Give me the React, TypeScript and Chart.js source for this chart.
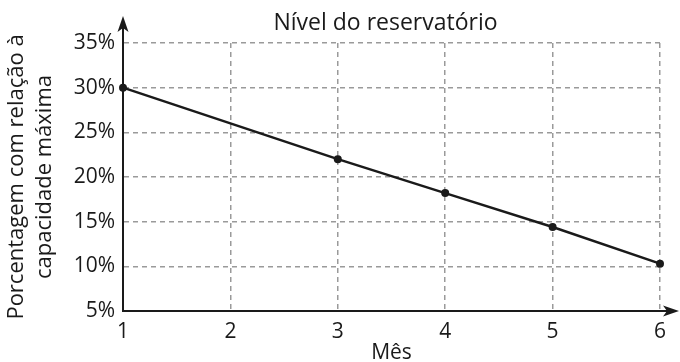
import React, { useEffect, useRef } from "react";
import { Chart, registerables } from "chart.js";

Chart.register(...registerables);

const months = [1, 3, 4, 5, 6];
const levels = [30, 22, 18.2, 14.4, 10.3];
const chartTitle = "Nível do reservatório";
const yTitle = ["Porcentagem com relação à", "capacidade máxima"];
const xTitle = "Mês";
const yMin = 5;
const yMax = 35;
const xMin = 1;
const xMax = 6;

const FONT = "'Open Sans', sans-serif";
const INK = "#1a1a1a";

const titlePlugin = {
  id: "centeredTitle",
  afterDraw(chart: any) {
    const { ctx, chartArea } = chart;
    ctx.save();
    ctx.fillStyle = INK;
    ctx.font = `23px ${FONT}`;
    ctx.textAlign = "center";
    ctx.textBaseline = "middle";
    ctx.fillText(chartTitle, (chartArea.left + chartArea.right) / 2 - 6, 23);
    ctx.restore();
  },
};

const arrowPlugin = {
  id: "axisArrows",
  afterDraw(chart: any) {
    const { ctx, chartArea } = chart;
    const { left, right, top, bottom } = chartArea;
    ctx.save();
    ctx.strokeStyle = INK;
    ctx.fillStyle = INK;
    ctx.lineWidth = 2;
    const tipY = top - 27;
    ctx.beginPath();
    ctx.moveTo(left, top);
    ctx.lineTo(left, tipY + 10);
    ctx.stroke();
    ctx.beginPath();
    ctx.moveTo(left, tipY);
    ctx.lineTo(left - 5.5, tipY + 16);
    ctx.lineTo(left, tipY + 12);
    ctx.lineTo(left + 5.5, tipY + 16);
    ctx.closePath();
    ctx.fill();
    const tipX = right + 19;
    ctx.beginPath();
    ctx.moveTo(right, bottom);
    ctx.lineTo(tipX - 10, bottom);
    ctx.stroke();
    ctx.beginPath();
    ctx.moveTo(tipX, bottom);
    ctx.lineTo(tipX - 16, bottom - 5.5);
    ctx.lineTo(tipX - 12, bottom);
    ctx.lineTo(tipX - 16, bottom + 5.5);
    ctx.closePath();
    ctx.fill();
    ctx.restore();
  },
};

export default function App() {
  const ref = useRef<HTMLCanvasElement | null>(null);

  useEffect(() => {
    document.body.style.margin = "0";
    const canvas = ref.current;
    if (!canvas) return;
    const chart = new Chart(canvas, {
      type: "scatter",
      data: {
        datasets: [
          {
            data: months.map((m, i) => ({ x: m, y: levels[i] })),
            showLine: true,
            borderColor: INK,
            backgroundColor: INK,
            borderWidth: 2.5,
            pointRadius: 4,
            pointBackgroundColor: INK,
            pointBorderWidth: 0,
            clip: false,
          },
        ],
      },
      options: {
        responsive: false,
        animation: false,
        devicePixelRatio: 1,
        layout: { padding: { left: 0, right: 20, top: 43, bottom: 0 } },
        plugins: {
          legend: { display: false },
          tooltip: { enabled: false },
          title: { display: false },
        },
        scales: {
          x: {
            type: "linear",
            min: xMin,
            max: xMax,
            afterFit: (s: any) => {
              s.height = 51;
            },
            ticks: {
              stepSize: 1,
              color: INK,
              font: { family: FONT, size: 21 },
              padding: 8,
            },
            grid: {
              color: "#9a9a9a",
              lineWidth: 1.5,
              drawTicks: false,
            },
            border: { display: true, color: INK, width: 2, dash: [5, 4] },
            title: {
              display: true,
              text: xTitle,
              color: INK,
              font: { family: FONT, size: 21, lineHeight: 0.85 },
              padding: { top: 0, bottom: 0 },
            },
          },
          y: {
            min: yMin,
            max: yMax,
            afterFit: (s: any) => {
              s.width = 123;
            },
            ticks: {
              stepSize: 5,
              color: INK,
              font: { family: FONT, size: 21 },
              padding: 8,
              callback: (v: any) => `${v}%`,
            },
            grid: {
              color: "#9a9a9a",
              lineWidth: 1.5,
              drawTicks: false,
            },
            border: { display: true, color: INK, width: 2, dash: [5, 4] },
            title: {
              display: true,
              text: yTitle,
              color: INK,
              font: { family: FONT, size: 22, lineHeight: 1.27 },
              padding: { top: 3, bottom: 4 },
            },
          },
        },
      },
      plugins: [arrowPlugin, titlePlugin],
    });
    return () => chart.destroy();
  }, []);

  return (
    <div style={{ width: 680, height: 362 }}>
      <canvas ref={ref} width={680} height={362} />
    </div>
  );
}
